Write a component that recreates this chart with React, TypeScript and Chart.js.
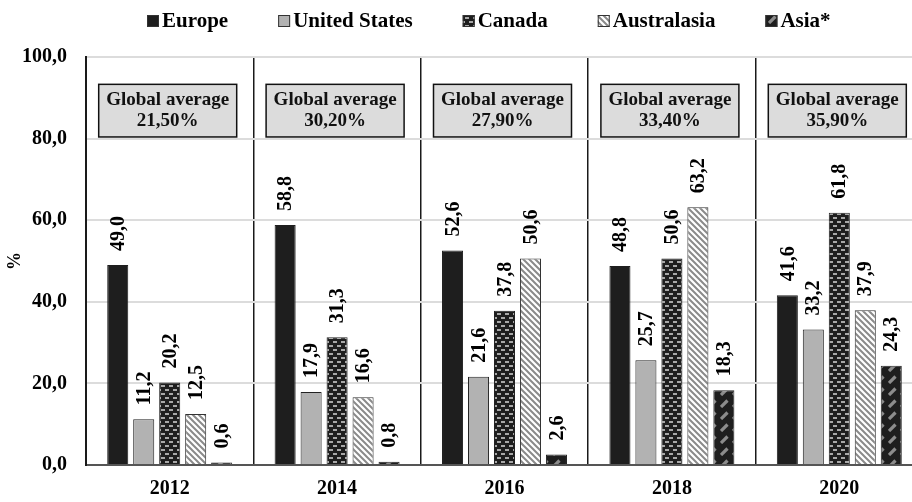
import React, { useEffect, useRef } from "react";
import { Chart, registerables } from "chart.js";

Chart.register(...registerables);

const years = ["2012", "2014", "2016", "2018", "2020"];
const europe = [49.0, 58.8, 52.6, 48.8, 41.6];
const unitedStates = [11.2, 17.9, 21.6, 25.7, 33.2];
const canada = [20.2, 31.3, 37.8, 50.6, 61.8];
const australasia = [12.5, 16.6, 50.6, 63.2, 37.9];
const asia = [0.6, 0.8, 2.6, 18.3, 24.3];
const globalAverage = ["21,50%", "30,20%", "27,90%", "33,40%", "35,90%"];
const yTicks = [0, 20, 40, 60, 80, 100];

const FONT = "'Liberation Serif', 'Times New Roman', serif";

function fmt(v: number) {
  return v.toFixed(1).replace(".", ",");
}

function makePattern(kind: string): CanvasPattern | string {
  const c = document.createElement("canvas");
  const ctx = c.getContext("2d")!;
  if (kind === "canada") {
    c.width = 8;
    c.height = 8;
    ctx.fillStyle = "#1e1e1e";
    ctx.fillRect(0, 0, 8, 8);
    ctx.fillStyle = "#a8a8a8";
    ctx.fillRect(1, 1, 4, 2);
    ctx.fillRect(5, 5, 3, 2);
    ctx.fillRect(0, 5, 1, 2);
  } else if (kind === "australasia") {
    c.width = 6;
    c.height = 6;
    ctx.fillStyle = "#ffffff";
    ctx.fillRect(0, 0, 6, 6);
    ctx.strokeStyle = "#8a8a8a";
    ctx.lineWidth = 2;
    ctx.beginPath();
    ctx.moveTo(-3, -3);
    ctx.lineTo(9, 9);
    ctx.moveTo(-3, 3);
    ctx.lineTo(3, 9);
    ctx.moveTo(3, -3);
    ctx.lineTo(9, 3);
    ctx.stroke();
  } else if (kind === "asia") {
    c.width = 12;
    c.height = 12;
    ctx.fillStyle = "#1e1e1e";
    ctx.fillRect(0, 0, 12, 12);
    ctx.strokeStyle = "#8c8c8c";
    ctx.lineWidth = 3.2;
    ctx.lineCap = "butt";
    ctx.beginPath();
    ctx.moveTo(1, 11);
    ctx.lineTo(7.5, 4.5);
    ctx.stroke();
  }
  const p = ctx.createPattern(c, "repeat");
  return p || "#333";
}

export default function App() {
  const ref = useRef<HTMLCanvasElement | null>(null);

  useEffect(() => {
    if (!ref.current) return;

    const legendPlugin = {
      id: "customLegend",
      afterDraw(chart: any) {
        const ctx = chart.ctx;
        ctx.save();
        ctx.font = `bold 21px ${FONT}`;
        ctx.textBaseline = "middle";
        ctx.textAlign = "left";
        let x = 147;
        const y = 21;
        const box = 12;
        chart.data.datasets.forEach((ds: any) => {
          ctx.fillStyle = ds.backgroundColor;
          ctx.fillRect(x, y - box / 2, box, box);
          ctx.lineWidth = 1;
          ctx.strokeStyle = "#333";
          ctx.strokeRect(x + 0.5, y - box / 2 + 0.5, box - 1, box - 1);
          ctx.fillStyle = "#000";
          ctx.fillText(ds.label, x + box + 3, y + 1);
          x += box + 3 + ctx.measureText(ds.label).width + 50;
        });
        ctx.restore();
      },
    };

    const annotationPlugin = {
      id: "annotations",
      afterDatasetsDraw(chart: any) {
        const ctx = chart.ctx;
        const xs = chart.scales.x;
        const ys = chart.scales.y;
        ctx.save();
        // data labels
        ctx.font = `bold 20px ${FONT}`;
        ctx.fillStyle = "#000";
        ctx.textAlign = "left";
        ctx.textBaseline = "middle";
        chart.data.datasets.forEach((ds: any, di: number) => {
          const meta = chart.getDatasetMeta(di);
          meta.data.forEach((el: any, i: number) => {
            ctx.save();
            ctx.translate(el.x + 1, el.y - 14);
            ctx.rotate(-Math.PI / 2);
            ctx.fillText(fmt(ds.data[i]), 0, 0);
            ctx.restore();
          });
        });
        // global average boxes
        const top = ys.getPixelForValue(93.3);
        const bottom = ys.getPixelForValue(80.4);
        years.forEach((_, i) => {
          const cx = xs.getPixelForValue(i) - 2;
          const w = 138;
          ctx.fillStyle = "#dcdcdc";
          ctx.fillRect(cx - w / 2, top, w, bottom - top);
          ctx.lineWidth = 1.5;
          ctx.strokeStyle = "#111";
          ctx.strokeRect(cx - w / 2, top, w, bottom - top);
          ctx.fillStyle = "#111";
          ctx.font = `bold 19px ${FONT}`;
          ctx.textAlign = "center";
          ctx.textBaseline = "middle";
          ctx.fillText("Global average", cx, top + 16);
          ctx.fillText(globalAverage[i], cx, top + 37);
        });
        ctx.restore();
      },
    };

    const chart = new Chart(ref.current, {
      type: "bar",
      data: {
        labels: years,
        datasets: [
          {
            label: "Europe",
            data: europe,
            backgroundColor: "#1e1e1e",
            borderColor: "#1e1e1e",
            borderWidth: 1,
          },
          {
            label: "United States",
            data: unitedStates,
            backgroundColor: "#b2b2b2",
            borderColor: "#222",
            borderWidth: 1,
          },
          {
            label: "Canada",
            data: canada,
            backgroundColor: makePattern("canada") as any,
            borderColor: "#222",
            borderWidth: 1,
          },
          {
            label: "Australasia",
            data: australasia,
            backgroundColor: makePattern("australasia") as any,
            borderColor: "#333",
            borderWidth: 1,
          },
          {
            label: "Asia*",
            data: asia,
            backgroundColor: makePattern("asia") as any,
            borderColor: "#222",
            borderWidth: 1,
          },
        ],
      },
      options: {
        responsive: false,
        animation: false,
        devicePixelRatio: 1,
        layout: { padding: { top: 57, right: 2, left: 0, bottom: 0 } },
        datasets: {
          bar: { categoryPercentage: 0.776, barPercentage: 0.81 },
        },
        plugins: {
          legend: { display: false },
          tooltip: { enabled: false },
        },
        scales: {
          x: {
            grid: {
              offset: true,
              color: "#1a1a1a",
              lineWidth: 1.5,
              drawTicks: false,
            },
            border: { color: "#555", width: 2 },
            ticks: {
              color: "#000",
              font: { family: FONT, size: 20, weight: "bold" },
              padding: 12,
            },
            afterFit(scale: any) {
              scale.height = 37;
            },
          },
          y: {
            min: 0,
            max: 100,
            afterBuildTicks(scale: any) {
              scale.ticks = yTicks.map((v) => ({ value: v }));
            },
            grid: { color: "#dcdcdc", lineWidth: 2, drawTicks: false },
            border: { color: "#1a1a1a", width: 2 },
            ticks: {
              color: "#000",
              font: { family: FONT, size: 20, weight: "bold" },
              padding: 19,
              callback: (v: any) => fmt(Number(v)),
            },
            title: {
              display: true,
              text: "%",
              color: "#000",
              font: { family: FONT, size: 18, weight: "bold" },
              padding: { top: 5, bottom: 0 },
            },
            afterFit(scale: any) {
              scale.width = 86;
            },
          },
        },
      },
      plugins: [annotationPlugin, legendPlugin],
    });

    return () => chart.destroy();
  }, []);

  return (
    <div
      style={{
        position: "fixed",
        left: 0,
        top: 0,
        width: 912,
        height: 502,
        overflow: "hidden",
        background: "#fff",
      }}
    >
      <canvas
        ref={ref}
        width={925}
        height={502}
        style={{ width: 925, height: 502, display: "block" }}
      />
    </div>
  );
}
